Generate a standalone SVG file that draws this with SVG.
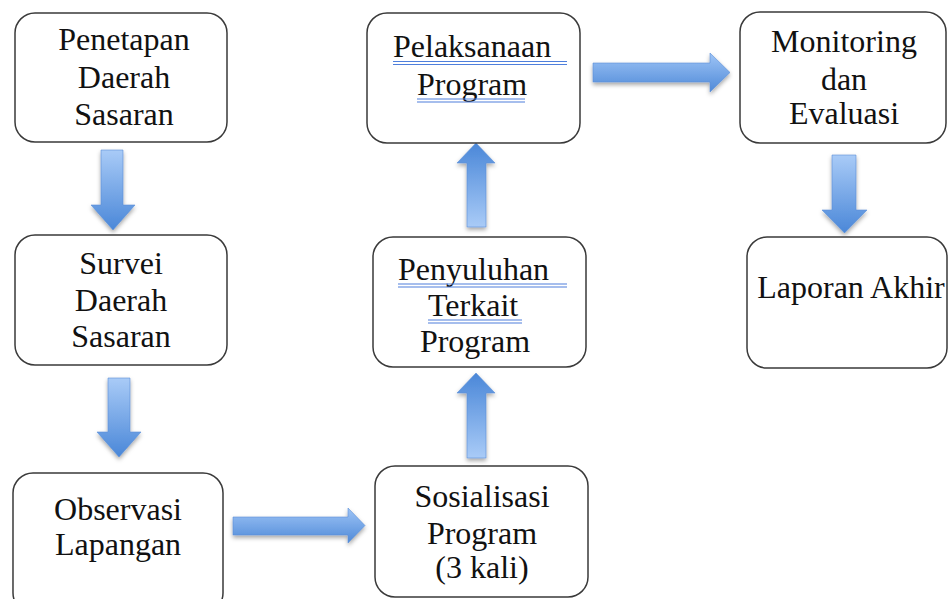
<svg xmlns="http://www.w3.org/2000/svg" width="948" height="599" viewBox="0 0 948 599">
<defs>
<linearGradient id="gDown" x1="0" y1="0" x2="0" y2="1"><stop offset="0" stop-color="#a9cbf7"/><stop offset="1" stop-color="#4a87d8"/></linearGradient>
<linearGradient id="gUp" x1="0" y1="1" x2="0" y2="0"><stop offset="0" stop-color="#a9cbf7"/><stop offset="1" stop-color="#4a87d8"/></linearGradient>
<linearGradient id="gRight" x1="0" y1="0" x2="0" y2="1"><stop offset="0" stop-color="#9ec4f6"/><stop offset="1" stop-color="#4f8ad8"/></linearGradient>
<filter id="sh" x="-30%" y="-30%" width="160%" height="160%"><feDropShadow dx="0" dy="2.5" stdDeviation="2.2" flood-color="#000" flood-opacity="0.35"/></filter>
<style>
.box{fill:#fff;stroke:#3a3a3a;stroke-width:1.5}
.t{font-family:"Liberation Serif","Times New Roman",serif;font-size:32px;fill:#111}
.m{text-anchor:middle}
.ul{stroke:#4f7fdc;stroke-width:1.2}
.arr{stroke:#5b8fd6;stroke-width:0.6;filter:url(#sh)}
</style>
</defs>
<g id="connectors">
<path class="arr" fill="url(#gDown)" d="M101,150 H123 V205 H135 L113,230 L91,205 H101 Z"/>
<path class="arr" fill="url(#gDown)" d="M108,378 H130 V432 H141 L119,457 L97,432 H108 Z"/>
<path class="arr" fill="url(#gRight)" d="M233,517 H348 V508 L365,525.5 L348,543 V535 H233 Z"/>
<path class="arr" fill="url(#gUp)" d="M467,458 H486 V393 H495 L476,373 L457,393 H467 Z"/>
<path class="arr" fill="url(#gUp)" d="M467,227 H486 V163 H495 L476,143 L457,163 H467 Z"/>
<path class="arr" fill="url(#gRight)" d="M593,63 H710 V53 L730,72.5 L710,92 V82 H593 Z"/>
<path class="arr" fill="url(#gDown)" d="M832,155 H856 V210 H867 L844.5,233 L822,210 H832 Z"/>
</g>
<g id="penetapan">
<rect class="box" x="15" y="13" width="212" height="129" rx="20"/>
<text class="t m" x="124" y="50">Penetapan</text>
<text class="t m" x="124" y="88">Daerah</text>
<text class="t m" x="124" y="125">Sasaran</text>
</g>
<g id="survei">
<rect class="box" x="15" y="235" width="212" height="130" rx="20"/>
<text class="t m" x="121" y="274">Survei</text>
<text class="t m" x="121" y="311">Daerah</text>
<text class="t m" x="121" y="347">Sasaran</text>
</g>
<g id="observasi">
<rect class="box" x="13" y="473" width="210" height="140" rx="20"/>
<text class="t m" x="118" y="520">Observasi</text>
<text class="t m" x="118" y="555">Lapangan</text>
</g>
<g id="sosialisasi">
<rect class="box" x="375" y="466" width="213" height="131" rx="20"/>
<text class="t m" x="482" y="507">Sosialisasi</text>
<text class="t m" x="482" y="544">Program</text>
<text class="t m" x="482" y="578">(3 kali)</text>
</g>
<g id="penyuluhan">
<rect class="box" x="373" y="237" width="213" height="130" rx="20"/>
<text class="t" x="398" y="280">Penyuluhan</text>
<line class="ul" x1="398" y1="284" x2="567" y2="284"/>
<line class="ul" x1="398" y1="287" x2="567" y2="287"/>
<text class="t" x="428" y="316">Terkait</text>
<line class="ul" x1="428" y1="320" x2="522" y2="320"/>
<line class="ul" x1="428" y1="323" x2="522" y2="323"/>
<text class="t m" x="475" y="352">Program</text>
</g>
<g id="pelaksanaan">
<rect class="box" x="367" y="13" width="213" height="130" rx="20"/>
<text class="t" x="393" y="57">Pelaksanaan</text>
<line class="ul" x1="393" y1="61.5" x2="567" y2="61.5"/>
<line class="ul" x1="393" y1="64.5" x2="567" y2="64.5"/>
<text class="t" x="417" y="95">Program</text>
<line class="ul" x1="417" y1="99" x2="525" y2="99"/>
<line class="ul" x1="417" y1="102" x2="525" y2="102"/>
</g>
<g id="monitoring">
<rect class="box" x="740" y="12" width="206" height="131" rx="20"/>
<text class="t m" x="844" y="52">Monitoring</text>
<text class="t m" x="844" y="90">dan</text>
<text class="t m" x="844" y="124">Evaluasi</text>
</g>
<g id="laporan">
<rect class="box" x="747" y="237" width="200" height="131" rx="20"/>
<text class="t m" x="851" y="298">Laporan Akhir</text>
</g>
</svg>
